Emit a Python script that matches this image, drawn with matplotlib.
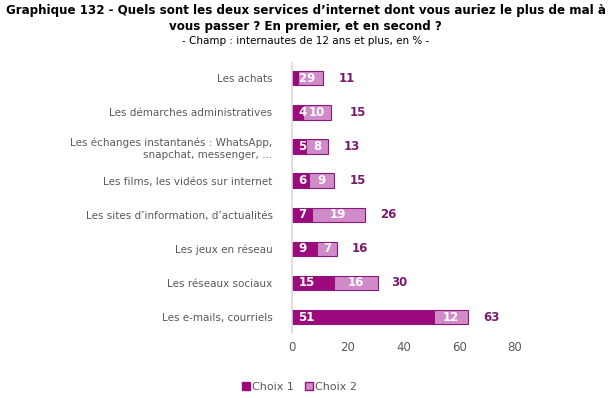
import numpy as np
import matplotlib.pyplot as plt
from matplotlib.patches import Patch

categories = ["Les achats", "Les démarches administratives",
              "Les échanges instantanés : WhatsApp,\nsnapchat, messenger, …",
              "Les films, les vidéos sur internet",
              "Les sites d’information, d’actualités",
              "Les jeux en réseau", "Les réseaux sociaux",
              "Les e-mails, courriels"]
choix1 = [2, 4, 5, 6, 7, 9, 15, 51]
choix2 = [9, 10, 8, 9, 19, 7, 16, 12]
totals = [11, 15, 13, 15, 26, 16, 30, 63]

c1 = "#9c0a7e"
c2 = "#d08bc8"
edge = "#8a1a7a"
txt = "#7b1a6e"

fig = plt.figure(figsize=(6.11, 3.98), dpi=100)
ax = fig.add_axes([0.478, 0.163, 0.365, 0.679])

y = np.arange(len(categories))
ax.barh(y, choix1, height=0.42, color=c1, edgecolor=edge, linewidth=0.8)
ax.barh(y, choix2, left=choix1, height=0.42, color=c2, edgecolor=edge, linewidth=0.8)

# valeurs : choix 1 cale a gauche, choix 2 centre, total a droite
for i in range(len(categories)):
    ax.text(2.3, y[i], str(choix1[i]), ha="left", va="center",
            color="white", fontsize=8.5, fontweight="bold")
    ax.text(choix1[i] + choix2[i] / 2, y[i], str(choix2[i]), ha="center", va="center",
            color="white", fontsize=8.5, fontweight="bold")
    ax.text(totals[i] + 8.5, y[i], str(totals[i]), ha="center", va="center",
            color=txt, fontsize=8.5, fontweight="bold")

ax.set_xlim(0, 80)
ax.set_ylim(7.47, -0.45)
ax.set_xticks([0, 20, 40, 60, 80])
ax.set_yticks(y)
ax.set_yticklabels(categories, fontsize=7.5, color="#595959", linespacing=1.3)
ax.tick_params(axis="x", labelsize=8.5, labelcolor="#595959", length=0, pad=6)
ax.tick_params(axis="y", length=0, pad=14)
for s in ["top", "right", "bottom"]:
    ax.spines[s].set_visible(False)
ax.spines["left"].set_color("#d9d9d9")
ax.spines["left"].set_linewidth(1.2)

fig.text(0.5, 0.99, "Graphique 132 - Quels sont les deux services d’internet dont vous auriez le plus de mal à\nvous passer ? En premier, et en second ?",
         ha="center", va="top", fontsize=8.6, fontweight="bold", linespacing=1.35)
fig.text(0.5, 0.91, "- Champ : internautes de 12 ans et plus, en % -", ha="center", va="top", fontsize=7.5)

handles = [Patch(facecolor=c1, edgecolor=c1), Patch(facecolor=c2, edgecolor=edge)]
fig.legend(handles, ["Choix 1", "Choix 2"], loc="center", bbox_to_anchor=(0.49, 0.027),
           ncol=2, frameon=False, fontsize=8, handlelength=0.7, handleheight=0.7,
           handletextpad=0.2, columnspacing=1.0, labelcolor="#595959")

fig.savefig("out.png", dpi=100)
